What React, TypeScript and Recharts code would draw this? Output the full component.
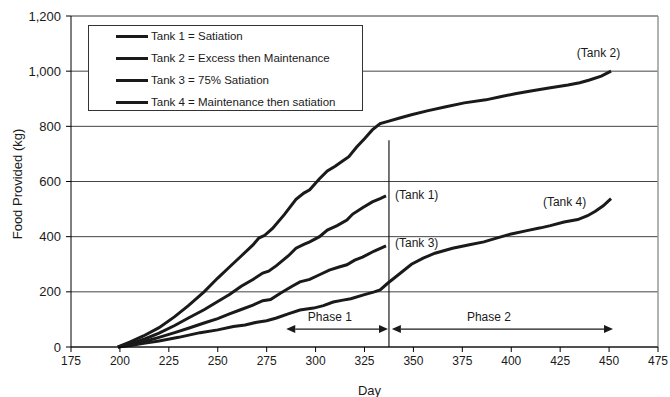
import {
  LineChart,
  Line,
  XAxis,
  YAxis,
  CartesianGrid,
  ReferenceLine,
  ReferenceDot,
  Legend,
  Label,
} from "recharts";

// days / kg
const tank1Days = [199, 206, 213, 220, 228, 235, 243, 250, 256, 262, 268, 273, 276, 280, 286, 290, 294, 297, 302, 306, 311, 316, 319, 324, 329, 333, 336];
const tank1Kg = [0, 13, 30, 50, 78, 105, 135, 165, 190, 220, 245, 268, 275, 295, 330, 358, 372, 381, 400, 424, 440, 460, 482, 505, 526, 538, 548];

const tank2Days = [199, 205, 212, 220, 228, 235, 243, 250, 256, 262, 268, 271, 274, 278, 284, 290, 294, 297, 302, 306, 310, 314, 317, 321, 325, 329, 333, 337, 343, 349, 357, 366, 376, 387, 395, 402, 410, 420, 429, 435, 440, 446, 451];
const tank2Kg = [0, 18, 40, 70, 110, 150, 200, 250, 290, 330, 370, 395, 405, 430, 480, 535, 558, 570, 610, 638, 655, 675, 690, 725, 755, 787, 810, 818, 830, 842, 856, 870, 885, 896, 908, 918, 928, 940, 950, 958, 968, 982, 1000];

const tank3Days = [199, 206, 213, 220, 228, 235, 243, 250, 256, 262, 268, 273, 277, 282, 288, 292, 297, 302, 307, 312, 316, 320, 324, 330, 336];
const tank3Kg = [0, 9, 21, 35, 52, 68, 87, 103, 120, 136, 152, 168, 172, 195, 220, 236, 245, 262, 279, 290, 298, 315, 326, 348, 367];

const tank4Days = [199, 206, 213, 220, 230, 241, 250, 258, 264, 270, 275, 280, 286, 292, 299, 304, 309, 314, 318, 325, 330, 333, 337, 342, 349, 355, 361, 370, 378, 386, 392, 400, 408, 415, 420, 427, 434, 439, 443, 447, 451];
const tank4Kg = [0, 6, 14, 22, 35, 52, 62, 74, 80, 90, 95, 105, 120, 134, 141, 150, 163, 170, 175, 190, 200, 207, 232, 260, 300, 322, 340, 358, 370, 381, 394, 410, 422, 432, 440, 453, 462, 476, 492, 512, 538];

const seriesNames = [
  "Tank 1 = Satiation",
  "Tank 2 = Excess then Maintenance",
  "Tank 3 = 75% Satiation",
  "Tank 4 = Maintenance then satiation",
];

const xTicks = [175, 200, 225, 250, 275, 300, 325, 350, 375, 400, 425, 450, 475];
const yTicks = [0, 200, 400, 600, 800, 1000, 1200];

const phaseSwitchDay = 337.5;
const phase1 = [285, 337];
const phase2 = [339, 452];
const phaseArrowKg = 65;

const endLabels = [
  { text: "(Tank 2)", day: 433.5, kg: 1066 },
  { text: "(Tank 1)", day: 340.6, kg: 551 },
  { text: "(Tank 3)", day: 340.6, kg: 377 },
  { text: "(Tank 4)", day: 416.2, kg: 526 },
];
const phaseLabels = [
  { text: "Phase 1", day: 307.3, kg: 109 },
  { text: "Phase 2", day: 388.6, kg: 109 },
];

const toPoints = (days: number[], kg: number[]) =>
  days.map((d, i) => ({ day: d, kg: kg[i] }));

const tanks = [
  toPoints(tank1Days, tank1Kg),
  toPoints(tank2Days, tank2Kg),
  toPoints(tank3Days, tank3Kg),
  toPoints(tank4Days, tank4Kg),
];

const FONT = '"Liberation Sans", Arial, Helvetica, sans-serif';
const INK = "#1a1a1a";

const DoubleArrow = (props: any) => {
  const { x1, y1, x2 } = props;
  const h = 9;
  const w = 4;
  return (
    <g>
      <line x1={x1 + h} y1={y1} x2={x2 - h} y2={y1} stroke={INK} strokeWidth={1.3} />
      <polygon points={`${x1},${y1} ${x1 + h},${y1 - w} ${x1 + h},${y1 + w}`} fill={INK} />
      <polygon points={`${x2},${y1} ${x2 - h},${y1 - w} ${x2 - h},${y1 + w}`} fill={INK} />
    </g>
  );
};

const LegendBox = () => (
  <div
    style={{
      position: "relative",
      width: 275,
      height: 86,
      boxSizing: "border-box",
      border: "1px solid #333",
      background: "#fff",
      fontFamily: FONT,
      fontSize: 11.5,
      color: INK,
    }}
  >
    {seriesNames.map((name, i) => (
      <div
        key={name}
        style={{
          position: "absolute",
          left: 27,
          top: i * 22 - 1,
          height: 22,
          display: "flex",
          alignItems: "center",
          whiteSpace: "nowrap",
        }}
      >
        <span style={{ display: "inline-block", width: 32, height: 3, background: INK, marginRight: 3 }} />
        {name}
      </div>
    ))}
  </div>
);

export default function App() {
  return (
    <div style={{ position: "absolute", left: 0, top: 0, width: 670, height: 397, background: "#fff" }}>
      <LineChart
        width={670}
        height={397}
        margin={{ top: 16, right: 12, bottom: 0, left: 0 }}
        style={{ fontFamily: FONT }}
      >
        <CartesianGrid horizontal vertical={false} stroke="#444" strokeWidth={1} />
        <XAxis
          type="number"
          dataKey="day"
          domain={[175, 475]}
          ticks={xTicks}
          allowDataOverflow
          height={50}
          stroke="#000"
          tickSize={5}
          tickMargin={4}
          tick={{ fill: INK, fontSize: 12 }}
        >
          <Label
            content={({ viewBox }: any) => (
              <text
                x={viewBox.x + viewBox.width / 2 + 5}
                y={viewBox.y + 43}
                textAnchor="middle"
                dominantBaseline="central"
                fontSize={13}
                fill={INK}
              >
                Day
              </text>
            )}
          />
        </XAxis>
        <YAxis
          type="number"
          domain={[0, 1200]}
          ticks={yTicks}
          width={71}
          stroke="#000"
          tickSize={5}
          tickMargin={5}
          tick={{ fill: INK, fontSize: 13 }}
          tickFormatter={(v: number) => v.toLocaleString("en-US")}
        >
          <Label
            content={({ viewBox }: any) => {
              const cx = 17;
              const cy = 184;
              return (
                <text
                  x={cx}
                  y={cy}
                  transform={`rotate(-90 ${cx} ${cy})`}
                  textAnchor="middle"
                  dominantBaseline="central"
                  fontSize={13}
                  fill={INK}
                >
                  Food Provided (kg)
                </text>
              );
            }}
          />
        </YAxis>
        <ReferenceLine x={475} stroke="#999" strokeWidth={1.5} />
        <ReferenceLine y={1200} stroke="#999" strokeWidth={1.5} />
        <ReferenceLine
          segment={[
            { x: phaseSwitchDay, y: 0 },
            { x: phaseSwitchDay, y: 750 },
          ]}
          stroke={INK}
          strokeWidth={1.2}
        />
        <ReferenceLine
          segment={[
            { x: phase1[0], y: phaseArrowKg },
            { x: phase1[1], y: phaseArrowKg },
          ]}
          shape={DoubleArrow}
        />
        <ReferenceLine
          segment={[
            { x: phase2[0], y: phaseArrowKg },
            { x: phase2[1], y: phaseArrowKg },
          ]}
          shape={DoubleArrow}
        />
        {tanks.map((data, i) => (
          <Line
            key={seriesNames[i]}
            data={data}
            dataKey="kg"
            name={seriesNames[i]}
            type="linear"
            stroke={INK}
            strokeWidth={3}
            dot={false}
            isAnimationActive={false}
          />
        ))}
        {endLabels.concat(phaseLabels).map((l) => (
          <ReferenceDot
            key={l.text}
            x={l.day}
            y={l.kg}
            shape={(p: any) => (
              <text
                x={p.cx}
                y={p.cy}
                textAnchor={l.text.startsWith("Phase") ? "middle" : "start"}
                dominantBaseline="central"
                fontSize={12}
                fill={INK}
              >
                {l.text}
              </text>
            )}
          />
        ))}
        <Legend
          layout="vertical"
          align="center"
          verticalAlign="middle"
          content={() => <LegendBox />}
          wrapperStyle={{ left: 88, top: 25, width: 275, height: 86 }}
        />
      </LineChart>
    </div>
  );
}
